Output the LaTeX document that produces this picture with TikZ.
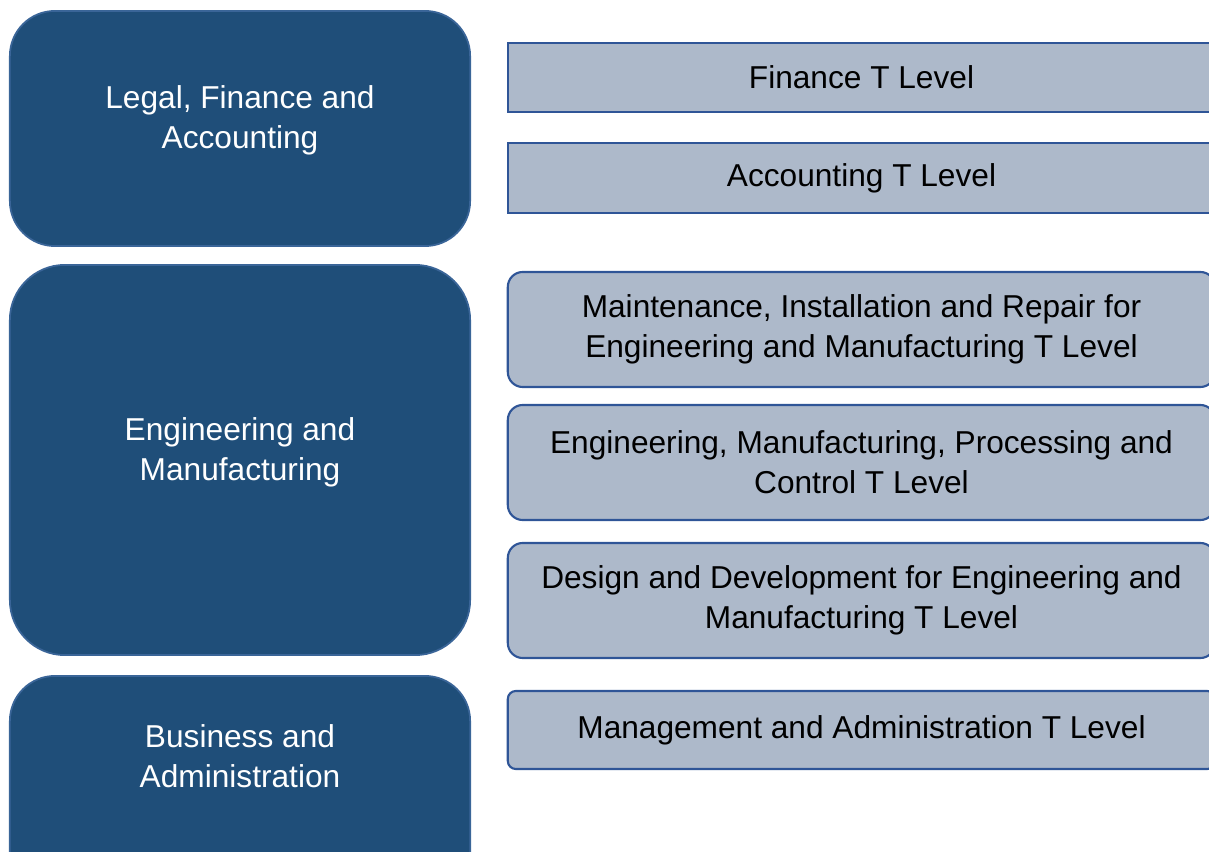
\documentclass[tikz,border=0pt]{standalone}
\usepackage{fontspec}
\setmainfont{Liberation Sans}
\usepackage{tikz}

\definecolor{sectorblue}{HTML}{1F4E79}
\definecolor{sectoredge}{HTML}{3A6598}
\definecolor{levelgrey}{HTML}{ADB9CA}
\definecolor{leveledge}{HTML}{2F5597}

\begin{document}
\begin{tikzpicture}[x=0.01cm,y=-0.01cm,
		sector/.style={draw=sectoredge,fill=sectorblue,line width=0.5pt,minimum width=4.6cm},
		sectortext/.style={text=white,align=center,font=\fontsize{9}{11.4}\selectfont},
		tlevel/.style={draw=leveledge,fill=levelgrey,line width=0.6pt,minimum width=7.07cm,
			align=center,font=\fontsize{9}{11.4}\selectfont}]
	\useasboundingbox (0,0) rectangle (1209,852);
	\clip (0,0) rectangle (1209,852);
	% Sektoren (links)
	\node[sector,rounded corners=0.45cm,minimum height=2.35cm] (legal) at (240,128.5) {};
	\node[sector,rounded corners=0.55cm,minimum height=3.9cm] (engmfg) at (240,460) {};
	\node[sector,rounded corners=0.45cm,minimum height=2.35cm] (business) at (240,793.5) {};
	\node[sectortext] (legaltxt) at ([yshift=0.085cm]legal.center) {Legal, Finance and\\Accounting};
	\node[sectortext] (engmfgtxt) at ([yshift=0.08cm]engmfg.center) {Engineering and\\Manufacturing};
	\node[sectortext] (businesstxt) at ([yshift=0.375cm]business.center) {Business and\\Administration};
	% T Levels (rechts)
	\node[tlevel,minimum height=0.69cm] (finance) at (861.5,77.5) {Finance T Level};
	\node[tlevel,minimum height=0.70cm] (accounting) at (861.5,178) {Accounting T Level};
	\node[tlevel,rounded corners=0.15cm,minimum height=1.15cm] (maint) at (861.5,329.5)
		{Maintenance, Installation and Repair for\\Engineering and Manufacturing T Level};
	\node[tlevel,rounded corners=0.15cm,minimum height=1.15cm] (empc) at (861.5,462.5)
		{Engineering, Manufacturing, Processing and\\Control T Level};
	\node[tlevel,rounded corners=0.15cm,minimum height=1.15cm] (design) at (861.5,600.5)
		{Design and Development for Engineering and\\Manufacturing T Level};
	\node[tlevel,rounded corners=0.08cm,minimum height=0.78cm] (mgmt) at (861.5,730)
		{Management and Administration T Level};
\end{tikzpicture}
\end{document}
